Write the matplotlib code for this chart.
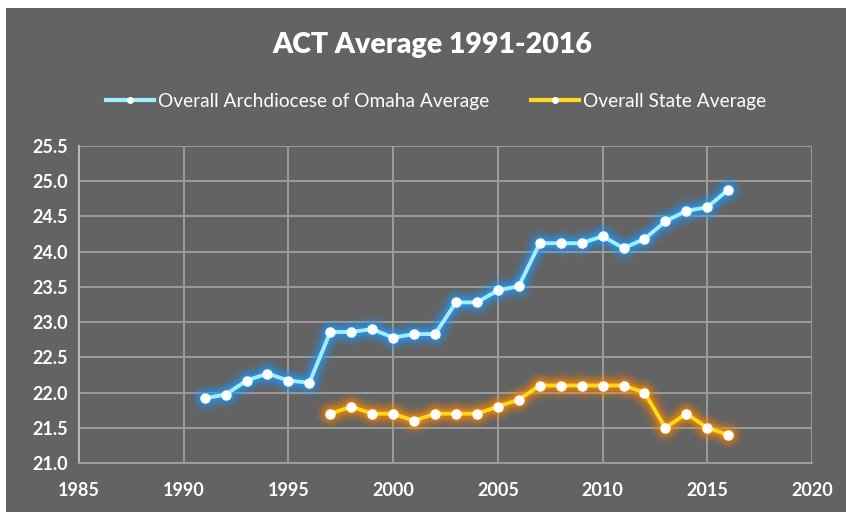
import matplotlib
matplotlib.use("Agg")
import matplotlib.pyplot as plt
from matplotlib.patches import Rectangle
from matplotlib.lines import Line2D

plt.rcParams['font.family'] = ['Lato', 'DejaVu Sans']

arch_years = list(range(1991, 2017))
arch_avg = [21.92, 21.97, 22.17, 22.27, 22.17, 22.14, 22.86, 22.86, 22.90, 22.78,
            22.83, 22.83, 23.28, 23.28, 23.45, 23.51, 24.12, 24.12, 24.12, 24.22,
            24.05, 24.18, 24.43, 24.58, 24.63, 24.88]
state_years = list(range(1997, 2017))
state_avg = [21.7, 21.8, 21.7, 21.7, 21.6, 21.7, 21.7, 21.7, 21.8, 21.9,
             22.1, 22.1, 22.1, 22.1, 22.1, 22.0, 21.5, 21.7, 21.5, 21.4]
arch_label = "Overall Archdiocese of Omaha Average"
state_label = "Overall State Average"
title = "ACT Average 1991-2016"

bg = '#636363'
fig = plt.figure(figsize=(8.46, 5.12), dpi=100)
fig.patch.set_facecolor('white')
fig.patches.append(Rectangle((6 / 846, 0), 1, 1 - 8 / 512, transform=fig.transFigure,
                             facecolor=bg, edgecolor='none', zorder=-5))

ax = fig.add_axes([79 / 846, 49 / 512, (812 - 79) / 846, (463 - 146) / 512])
ax.set_facecolor(bg)


def glow_line(x, y, core, glow):
    # soft halo drawn under the line
    for w, a in [(18, 0.08), (14, 0.12), (10, 0.2), (7, 0.35)]:
        ax.plot(x, y, color=glow, lw=w, alpha=a, solid_capstyle='round',
                solid_joinstyle='round', zorder=2)
        ax.plot(x, y, 'o', color=glow, ms=w + 3, alpha=a * 0.7, mec='none', zorder=2)
    ax.plot(x, y, color=core, lw=2.8, zorder=3, solid_joinstyle='round')
    ax.plot(x, y, 'o', color='white', ms=7.5, mec='none', zorder=4)


glow_line(arch_years, arch_avg, '#a0efff', '#1f9bff')
glow_line(state_years, state_avg, '#ffd91a', '#ff8800')

ax.set_xlim(1985, 2020)
ax.set_ylim(21.0, 25.5)
ax.set_xticks(range(1985, 2021, 5))
ax.set_yticks([21.0 + 0.5 * i for i in range(10)])
ax.set_yticklabels([f"{21.0 + 0.5 * i:.1f}" for i in range(10)])
ax.grid(True, color='#a0a0a0', lw=1.3)
ax.set_axisbelow(True)
for s in ['top', 'right']:
    ax.spines[s].set_visible(False)
ax.spines['left'].set_color('#b8b8b8')
ax.spines['bottom'].set_color('#a0a0a0')
ax.spines['left'].set_linewidth(1.5)
ax.spines['bottom'].set_linewidth(1.3)
ax.tick_params(length=0, colors='white', labelsize=13, pad=8)
ax.tick_params(axis='x', pad=14)
for lab in ax.get_xticklabels() + ax.get_yticklabels():
    lab.set_fontweight('bold')

fig.text(432 / 846, 1 - 45 / 512, title, color='white', fontsize=20.5, fontweight='heavy',
         ha='center', va='center')

handles = [Line2D([], [], color='#a0efff', lw=3, marker='o', mfc='white', mec='none', ms=5),
           Line2D([], [], color='#ffd91a', lw=3, marker='o', mfc='white', mec='none', ms=5)]
leg = fig.legend(handles, [arch_label, state_label], loc='center',
                 bbox_to_anchor=(436 / 846, 1 - 101 / 512), ncol=2, frameon=False,
                 fontsize=13.8, labelcolor='white', handlelength=2.5, handletextpad=0.2,
                 columnspacing=2.2, markerscale=1)

fig.savefig('out.png', dpi=100, facecolor=fig.get_facecolor())
